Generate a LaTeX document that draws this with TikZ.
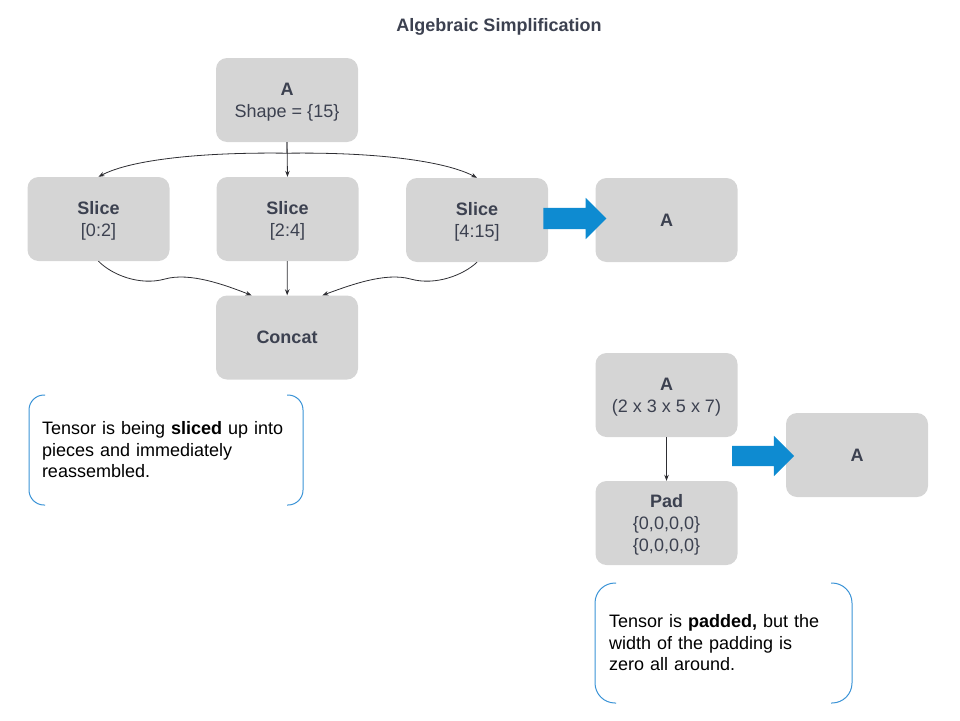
\documentclass[tikz,border=0pt]{standalone}
\usepackage{fontspec}
\setmainfont{Liberation Sans}
\usepackage{tikz}
\usetikzlibrary{calc,shapes.arrows,arrows.meta}
\usepackage{xcolor}
\definecolor{mgray}{HTML}{D5D5D5}
\definecolor{mtext}{HTML}{3C4150}
\definecolor{mline}{HTML}{2E2E33}
\definecolor{mblue}{HTML}{0E8BD1}
\definecolor{mbracket}{HTML}{3A93D6}
\tikzstyle{box}=[rectangle, rounded corners=11pt, fill=mgray, text=mtext, minimum width=142pt, minimum height=84pt, align=center, text depth=0pt, font=\fontsize{18}{22}\selectfont]
\tikzstyle{l1}=[line width=0.8pt, color=mline, -{Stealth[length=6pt,width=4.5pt]}]
\tikzstyle{bigarrow}=[single arrow, fill=mblue, minimum height=63pt, inner xsep=0pt, inner ysep=10.5pt, single arrow head extend=10pt]
\tikzstyle{note}=[rectangle, outer sep=0pt, align=left, text=black, font=\fontsize{18}{21.5}\selectfont]
\tikzstyle{bracket}=[line width=1pt, color=mbracket]
\newcommand{\notebrackets}[2]{%
  \draw[bracket, rounded corners=#2pt] ($(#1.north west)+(#2+1,0)$) -- (#1.north west) -- (#1.south west) -- ($(#1.south west)+(#2+1,0)$);
  \draw[bracket, rounded corners=#2pt] ($(#1.north east)+(-#2-1,0)$) -- (#1.north east) -- (#1.south east) -- ($(#1.south east)+(-#2-1,0)$);}

\begin{document}
\begin{tikzpicture}[x=1pt, y=1pt]
    \useasboundingbox (0,0) rectangle (960,-720);
    \node (title) at (499,-27) [font=\bfseries\fontsize{18}{22}\selectfont, text=mtext] {Algebraic Simplification};

    % slice / concat
    \node (a) [box] at (287,-100) {\textbf{A}\\Shape = \{15\}};
    \node (s1) [box] at (98.5,-219) {\textbf{Slice}\\{[0:2]}};
    \node (s2) [box] at (287.5,-219) {\textbf{Slice}\\{[2:4]}};
    \node (s3) [box] at (477,-220) {\textbf{Slice}\\{[4:15]}};
    \node (cc) [box] at (287,-337.5) {\textbf{Concat}};
    \node (r1) [box] at (666.5,-220) {\textbf{A}};

    \coordinate (fork) at ($(a.south)+(0,-11)$);
    \draw[l1] (a.south) -- (s2.north);
    \draw[l1] (a.south) -- (fork) .. controls (200,-152) and (130,-160) .. (s1.north);
    \draw[l1] (fork) .. controls (376,-152) and (445,-161) .. (s3.north);
    \draw[l1] (s2) -- (cc);
    \draw[l1] (s1.south) .. controls (112,-275) and (140,-286) .. (165,-279) .. controls (190,-272) and (225,-285) .. (cc.130);
    \draw[l1] (s3.south) .. controls (463.5,-275) and (435.5,-286) .. (410.5,-279) .. controls (385.5,-272) and (350.5,-285) .. (cc.50);
    \node (ar1) [bigarrow] at (569.5,-218.5) {};

    % pad
    \node (a2) [box] at (666.5,-395) {\textbf{A}\\(2 x 3 x 5 x 7)};
    \node (pad) [box] at (666.5,-523) {\textbf{Pad}\\\{0,0,0,0\}\\\{0,0,0,0\}};
    \node (r2) [box] at (857,-455) {\textbf{A}};
    \draw[l1] (a2) -- (pad);
    \node (ar2) [bigarrow, minimum height=62pt, inner ysep=10pt] at (758,-456) {};

    % notes
    \node (n1) [note, minimum width=274pt, minimum height=110pt, text width=248pt] at (166,-450) {Tensor is being \textbf{sliced} up into\\pieces and immediately\\reassembled.};
    \notebrackets{n1}{15}
    \node (n2) [note, minimum width=257pt, minimum height=120pt, text width=229pt] at (723.5,-643) {Tensor is \textbf{padded,} but the\\width of the padding is\\zero all around.};
    \notebrackets{n2}{20}
\end{tikzpicture}
\end{document}
